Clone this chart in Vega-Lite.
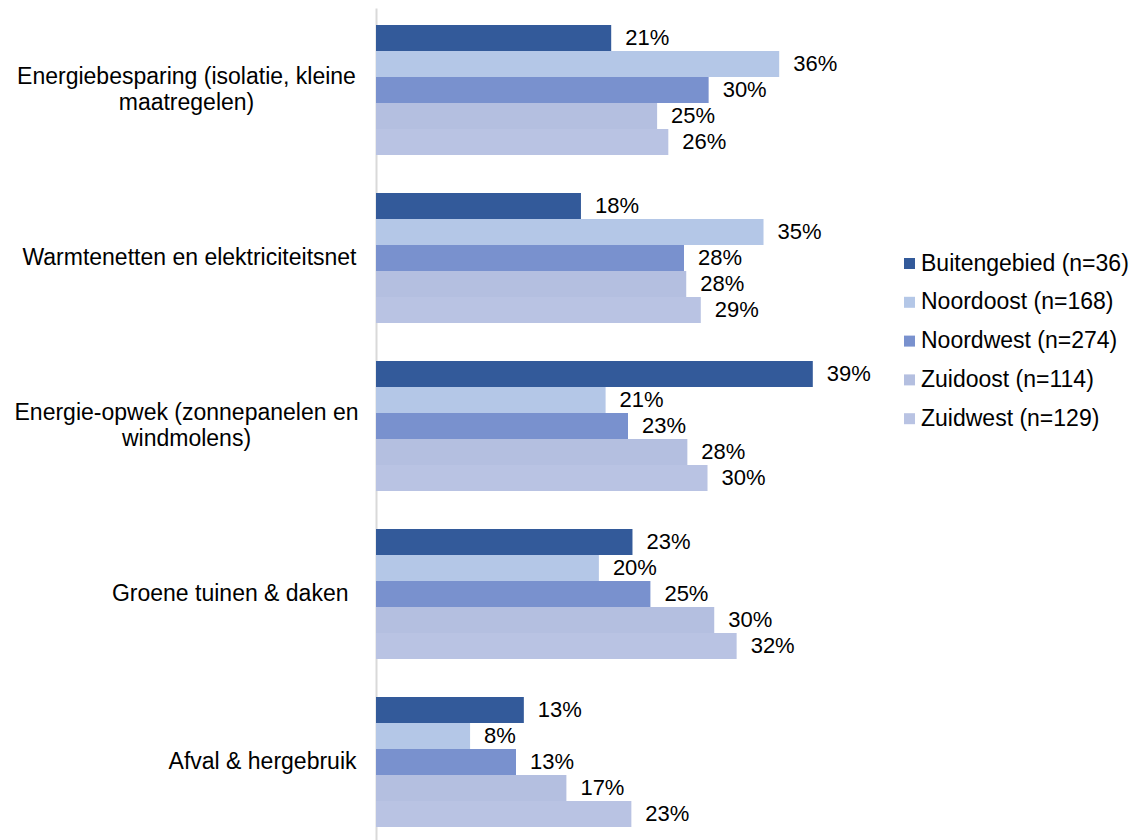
{
  "$schema": "https://vega.github.io/schema/vega-lite/v6.json",
  "autosize": {"type": "none"},
  "padding": {"left": 376, "top": 8, "right": 257, "bottom": 0},
  "width": 504,
  "height": 832,
  "background": "white",
  "config": {
    "view": {"stroke": null},
    "font": "Liberation Sans"
  },
  "data": {
    "values": [
      {"categorie": "Energiebesparing (isolatie, kleine maatregelen)", "gebied": "Buitengebied (n=36)", "waarde": 0.210, "label": "21%"},
      {"categorie": "Energiebesparing (isolatie, kleine maatregelen)", "gebied": "Noordoost (n=168)", "waarde": 0.360, "label": "36%"},
      {"categorie": "Energiebesparing (isolatie, kleine maatregelen)", "gebied": "Noordwest (n=274)", "waarde": 0.297, "label": "30%"},
      {"categorie": "Energiebesparing (isolatie, kleine maatregelen)", "gebied": "Zuidoost (n=114)", "waarde": 0.251, "label": "25%"},
      {"categorie": "Energiebesparing (isolatie, kleine maatregelen)", "gebied": "Zuidwest (n=129)", "waarde": 0.261, "label": "26%"},
      {"categorie": "Warmtenetten en elektriciteitsnet", "gebied": "Buitengebied (n=36)", "waarde": 0.183, "label": "18%"},
      {"categorie": "Warmtenetten en elektriciteitsnet", "gebied": "Noordoost (n=168)", "waarde": 0.346, "label": "35%"},
      {"categorie": "Warmtenetten en elektriciteitsnet", "gebied": "Noordwest (n=274)", "waarde": 0.275, "label": "28%"},
      {"categorie": "Warmtenetten en elektriciteitsnet", "gebied": "Zuidoost (n=114)", "waarde": 0.277, "label": "28%"},
      {"categorie": "Warmtenetten en elektriciteitsnet", "gebied": "Zuidwest (n=129)", "waarde": 0.290, "label": "29%"},
      {"categorie": "Energie-opwek (zonnepanelen en windmolens)", "gebied": "Buitengebied (n=36)", "waarde": 0.390, "label": "39%"},
      {"categorie": "Energie-opwek (zonnepanelen en windmolens)", "gebied": "Noordoost (n=168)", "waarde": 0.205, "label": "21%"},
      {"categorie": "Energie-opwek (zonnepanelen en windmolens)", "gebied": "Noordwest (n=274)", "waarde": 0.225, "label": "23%"},
      {"categorie": "Energie-opwek (zonnepanelen en windmolens)", "gebied": "Zuidoost (n=114)", "waarde": 0.278, "label": "28%"},
      {"categorie": "Energie-opwek (zonnepanelen en windmolens)", "gebied": "Zuidwest (n=129)", "waarde": 0.296, "label": "30%"},
      {"categorie": "Groene tuinen & daken", "gebied": "Buitengebied (n=36)", "waarde": 0.229, "label": "23%"},
      {"categorie": "Groene tuinen & daken", "gebied": "Noordoost (n=168)", "waarde": 0.199, "label": "20%"},
      {"categorie": "Groene tuinen & daken", "gebied": "Noordwest (n=274)", "waarde": 0.245, "label": "25%"},
      {"categorie": "Groene tuinen & daken", "gebied": "Zuidoost (n=114)", "waarde": 0.302, "label": "30%"},
      {"categorie": "Groene tuinen & daken", "gebied": "Zuidwest (n=129)", "waarde": 0.322, "label": "32%"},
      {"categorie": "Afval & hergebruik", "gebied": "Buitengebied (n=36)", "waarde": 0.132, "label": "13%"},
      {"categorie": "Afval & hergebruik", "gebied": "Noordoost (n=168)", "waarde": 0.084, "label": "8%"},
      {"categorie": "Afval & hergebruik", "gebied": "Noordwest (n=274)", "waarde": 0.125, "label": "13%"},
      {"categorie": "Afval & hergebruik", "gebied": "Zuidoost (n=114)", "waarde": 0.170, "label": "17%"},
      {"categorie": "Afval & hergebruik", "gebied": "Zuidwest (n=129)", "waarde": 0.228, "label": "23%"}
    ]
  },
  "encoding": {
    "y": {
      "field": "categorie",
      "type": "nominal",
      "sort": null,
      "scale": {"paddingInner": 0.2262, "paddingOuter": 0.0893, "align": 0.567},
      "axis": {
        "title": null,
        "ticks": false,
        "grid": false,
        "domainColor": "#d9d9d9",
        "domainWidth": 2,
        "labelFontSize": 23,
        "labelFont": "Liberation Sans",
        "labelColor": "#000000",
        "labelLimit": 400,
        "labelLineHeight": 26,
        "labelBaseline": "middle",
        "labelAlign": {"condition": {"test": "indexof(datum.value, '(') >= 0", "value": "center"}, "value": "right"},
        "labelPadding": {"condition": [
          {"test": "indexof(datum.value, '(') >= 0", "value": 190},
          {"test": "datum.value == 'Groene tuinen & daken'", "value": 28}
        ], "value": 20},
        "labelOffset": {"condition": {"test": "indexof(datum.value, '(') >= 0", "value": -13}, "value": 0},
        "labelExpr": "datum.value == 'Energiebesparing (isolatie, kleine maatregelen)' ? ['Energiebesparing (isolatie, kleine', 'maatregelen)'] : datum.value == 'Energie-opwek (zonnepanelen en windmolens)' ? ['Energie-opwek (zonnepanelen en', 'windmolens)'] : datum.label"
      }
    },
    "yOffset": {
      "field": "gebied",
      "type": "nominal",
      "sort": null,
      "scale": {"paddingInner": 0, "paddingOuter": 0}
    },
    "x": {
      "field": "waarde",
      "type": "quantitative",
      "scale": {"domain": [0, 0.45], "nice": false},
      "axis": null
    }
  },
  "layer": [
    {
      "mark": {"type": "bar", "cornerRadius": 0},
      "encoding": {
        "color": {
          "field": "gebied",
          "type": "nominal",
          "sort": null,
          "scale": {
            "domain": ["Buitengebied (n=36)", "Noordoost (n=168)", "Noordwest (n=274)", "Zuidoost (n=114)", "Zuidwest (n=129)"],
            "range": ["#335A9A", "#B4C7E7", "#7991CE", "#B4BFE0", "#B9C3E3"]
          },
          "legend": {
            "title": null,
            "orient": "none",
            "legendX": 522,
            "legendY": 244,
            "symbolType": "square",
            "symbolSize": 121,
            "symbolStrokeWidth": 0,
            "labelFontSize": 23,
            "labelFont": "Liberation Sans",
            "labelColor": "#000000",
            "labelLimit": 300,
            "labelOffset": 0,
            "rowPadding": 14.8
          }
        }
      }
    },
    {
      "mark": {"type": "text", "align": "left", "baseline": "middle", "dx": 14, "fontSize": 22, "font": "Liberation Sans", "color": "#000000"},
      "encoding": {
        "text": {"field": "label", "type": "nominal"}
      }
    }
  ]
}
